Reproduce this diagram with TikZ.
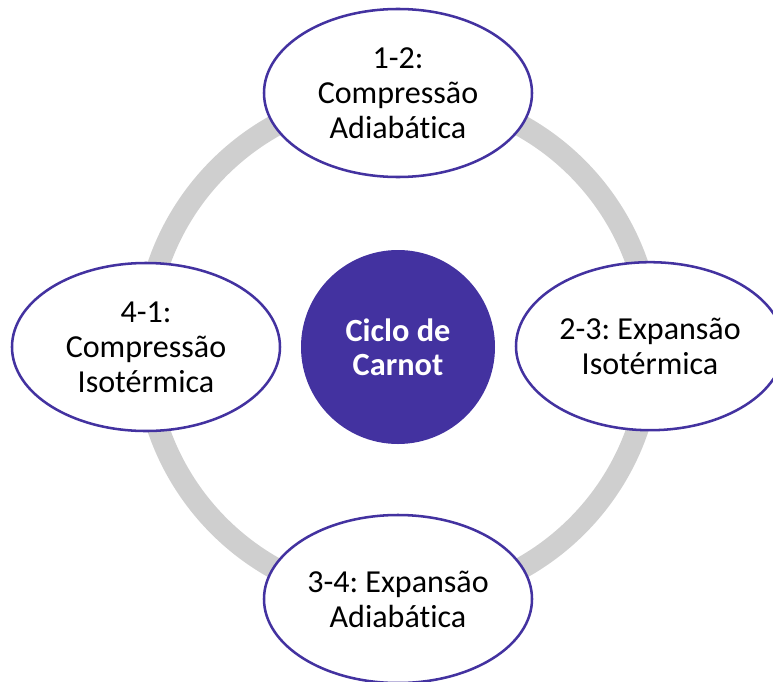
\documentclass[tikz,border=0pt]{standalone}
\usepackage{fontspec}
\setmainfont{Carlito}[Ligatures=NoCommon]
\usepackage{tikz}
\usetikzlibrary{shapes.geometric, backgrounds}
\definecolor{viola}{HTML}{4332A0}
\definecolor{anelcol}{HTML}{CFCFCF}
\frenchspacing
\tikzset{
	% fase do ciclo (elipse)
	fase/.style={draw=viola, line width=1.8pt, ellipse, fill=white, minimum width=6.7cm,
	             minimum height=4.2cm, inner sep=0pt, align=center,
	             font=\fontsize{22.8}{25}\selectfont},
	% círculo central
	centro/.style={circle, fill=viola, minimum size=4.85cm, inner sep=0pt, align=center,
	               text=white, font=\fontsize{23}{24.5}\selectfont\bfseries},
	% anel cinzento
	anel/.style={draw=anelcol, line width=0.55cm},
}

\begin{document}
\begin{tikzpicture}
    \useasboundingbox (-9.95,-8.35) rectangle (9.375,8.675);
    % círculo central
    \node[centro] (ciclo) at (0,0) {Ciclo de\\Carnot};
    % anel
    \begin{scope}[on background layer]
      \draw[anel] (ciclo.center) circle (6.33);
    \end{scope}
    % fases
    \node[fase] (f12) at (0,6.35)  {1-2:\\Compressão\\Adiabática};
    \node[fase] (f23) at (6.3,0.02) {2-3: Expansão\\Isotérmica};
    \node[fase] (f34) at (0,-6.3)  {3-4: Expansão\\Adiabática};
    \node[fase] (f41) at (-6.3,0)  {4-1:\\Compressão\\Isotérmica};
\end{tikzpicture}
\end{document}
